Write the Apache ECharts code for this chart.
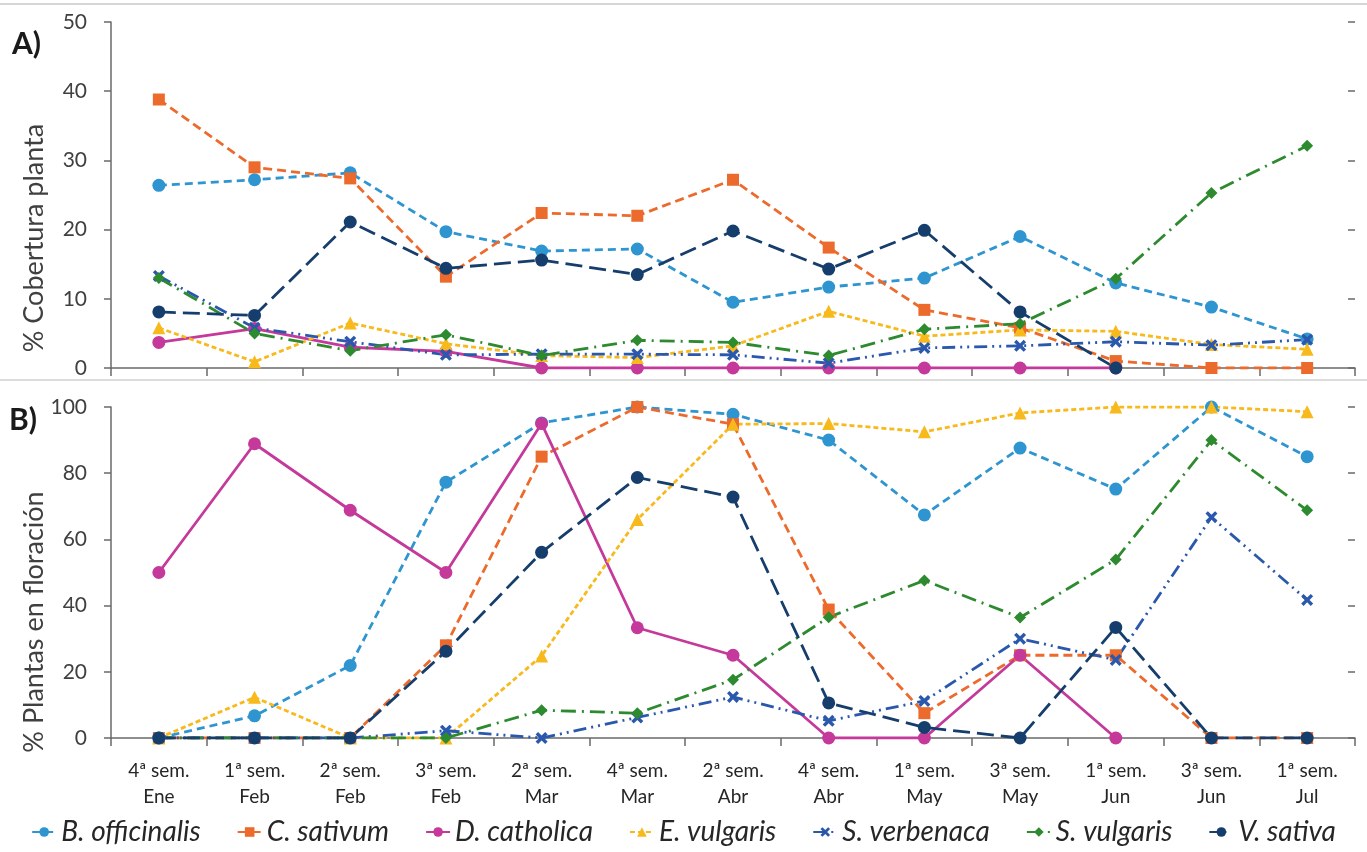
<!DOCTYPE html>
<html><head><meta charset="utf-8">
<script src="https://cdn.jsdelivr.net/npm/echarts@6/dist/echarts.min.js"></script>
<style>html,body{margin:0;padding:0;background:#fff}#c{width:1367px;height:852px}</style>
</head><body><div id="c"></div>
<script>
const weeks = ['4ª sem.','1ª sem.','2ª sem.','3ª sem.','2ª sem.','4ª sem.','2ª sem.','4ª sem.','1ª sem.','3ª sem.','1ª sem.','3ª sem.','1ª sem.'];
const months = ['Ene','Feb','Feb','Feb','Mar','Mar','Abr','Abr','May','May','Jun','Jun','Jul'];
const speciesNames = ['B. officinalis','C. sativum','D. catholica','E. vulgaris','S. verbenaca','S. vulgaris','V. sativa'];

// A) % Cobertura planta
const coverBofficinalis = [26.4,27.2,28.2,19.7,16.9,17.2,9.5,11.7,13.0,19.0,12.3,8.8,4.2];
const coverCsativum     = [38.8,29.0,27.4,13.2,22.4,22.0,27.2,17.4,8.4,5.8,1.0,0,0];
const coverDcatholica   = [3.7,5.7,3.0,2.4,0,0,0,0,0,0,0,null,null];
const coverEvulgaris    = [5.8,0.9,6.5,3.5,1.8,1.5,3.2,8.2,4.6,5.5,5.3,3.4,2.7];
const coverSverbenaca   = [13.3,5.8,3.8,1.9,2.0,2.0,1.9,0.7,2.9,3.2,3.8,3.3,4.1];
const coverSvulgaris    = [13.0,5.0,2.5,4.8,1.8,4.0,3.7,1.8,5.6,6.4,12.9,25.3,32.1];
const coverVsativa      = [8.1,7.6,21.1,14.4,15.6,13.5,19.8,14.3,19.9,8.1,0,null,null];

// B) % Plantas en floración
const flowerBofficinalis = [0,6.7,21.9,77.3,95.2,100,97.8,90,67.4,87.6,75.2,100,85];
const flowerCsativum     = [0,0,0,28,85,100,94.8,38.8,7.5,25,25,0,0];
const flowerDcatholica   = [50,88.9,68.8,50,95,33.3,25,0,0,25,0,null,null];
const flowerEvulgaris    = [0,12.3,0,0,24.8,66,94.8,95,92.5,98.2,100,100,98.6];
const flowerSverbenaca   = [0,0,0,2.2,0,6.2,12.4,5.2,11.2,30,23.6,66.7,41.7];
const flowerSvulgaris    = [0,0,0,0,8.4,7.5,17.6,36.5,47.6,36.4,53.9,90,68.8];
const flowerVsativa      = [0,0,0,26.2,56.1,78.7,72.8,10.6,3.2,0,33.4,0,0];

const categories = weeks.map((w,i)=>w+'\n'+months[i]);
const coverData = [coverBofficinalis,coverCsativum,coverDcatholica,coverEvulgaris,coverSverbenaca,coverSvulgaris,coverVsativa];
const flowerData = [flowerBofficinalis,flowerCsativum,flowerDcatholica,flowerEvulgaris,flowerSverbenaca,flowerSvulgaris,flowerVsativa];

const colors = ['#2E95D0','#EC6A2C','#C4399A','#F7B91C','#2A58AC','#2D8A2F','#163E6C'];
const xPath = 'path://M0,2 L2,0 L5,3 L8,0 L10,2 L7,5 L10,8 L8,10 L5,7 L2,10 L0,8 L3,5 Z';
const symbols = ['circle','rect','circle','triangle',xPath,'diamond','circle'];
const symSizes = [13,12,13,13,12,12,13];
const dashes = [[8,5],[9,5],'solid',[5,3],[13,5,2,5,2,5],[15,6,2,6],[17,7]];

const font = 'Lato, "Open Sans", sans-serif';
const axisColor = '#6a6a6a';
const labelColor = '#404040';

function mkSeries(data, xi, yi) {
  return speciesNames.map((n,i)=>({
    name:n, type:'line', xAxisIndex:xi, yAxisIndex:yi, data:data[i],
    symbol:symbols[i], symbolSize:symSizes[i], connectNulls:false,
    lineStyle:{color:colors[i], width:2.8, type:dashes[i]},
    itemStyle:{color:colors[i]},
    emphasis:{disabled:true}, animation:false
  }));
}

const yBase = (gi, max, interval, withLabel) => ({
  type:'value', gridIndex:gi, min:0, max:max, interval:interval,
  splitLine:{show:false},
  axisLine:{show:withLabel, lineStyle:{color:axisColor, width:1.5}},
  axisTick:{show:true, inside:!withLabel, length:7, lineStyle:{color:axisColor, width:1.5}},
  axisLabel:{show:withLabel, color:labelColor, fontSize:21, fontFamily:font, margin:24}
});

const xBase = (gi, showLabel) => ({
  type:'category', gridIndex:gi, data:categories, boundaryGap:true,
  axisLine:{lineStyle:{color:axisColor, width:1.5}},
  axisTick:{show:true, length:8, lineStyle:{color:axisColor, width:1.5}},
  axisLabel:{show:showLabel, color:'#262626', fontSize:19, fontFamily:font, lineHeight:26, margin:20, interval:0}
});

const chart = echarts.init(document.getElementById('c'), null, {renderer:'canvas'});
chart.setOption({
  backgroundColor:'#fff',
  animation:false,
  grid:[
    {left:111, right:12, top:22, height:346},
    {left:111, right:12, top:407, height:331}
  ],
  xAxis:[xBase(0,false), xBase(1,true)],
  yAxis:[yBase(0,50,10,true), yBase(0,50,10,false), yBase(1,100,20,true), yBase(1,100,20,false)],
  legend:{
    data:speciesNames, top:813, left:'center', itemWidth:24, itemHeight:12, itemGap:36,
    textStyle:{fontStyle:'italic', fontSize:28, color:'#262626', fontFamily:font}
  },
  graphic:[
    {type:'line', shape:{x1:0,y1:4,x2:1367,y2:4}, style:{stroke:'#c8c8c8', lineWidth:1.5}, silent:true},
    {type:'line', shape:{x1:0,y1:380,x2:1367,y2:380}, style:{stroke:'#d0d0d0', lineWidth:1.5}, silent:true},
    {type:'text', left:12, top:29, style:{text:'A)', font:'bold 30px '+font, fill:'#1a1a1a'}},
    {type:'text', left:9, top:405, style:{text:'B)', font:'bold 30px '+font, fill:'#1a1a1a'}},
    {type:'text', x:34, y:238, rotation:Math.PI/2, style:{text:'% Cobertura planta', font:'27px '+font, fill:labelColor, textAlign:'center', textVerticalAlign:'middle'}},
    {type:'text', x:34, y:622, rotation:Math.PI/2, style:{text:'% Plantas en floración', font:'27px '+font, fill:labelColor, textAlign:'center', textVerticalAlign:'middle'}}
  ],
  series:[...mkSeries(coverData,0,0), ...mkSeries(flowerData,1,2)]
});
</script></body></html>
